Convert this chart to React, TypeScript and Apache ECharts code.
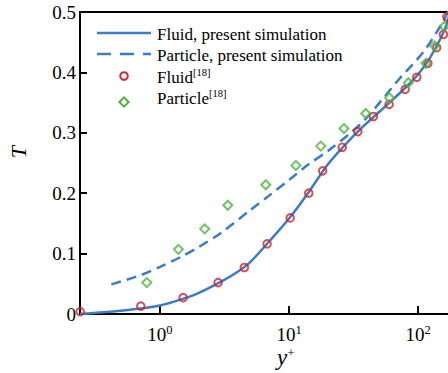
import React, { useEffect, useRef } from "react";
import * as echarts from "echarts";

// Fluid, present simulation (solid line)
const fluidSimX = [0.24, 0.43, 0.7, 1, 1.5, 2, 3, 4, 5, 7, 10, 14, 20, 30, 40, 60, 80, 100, 120, 140, 160, 175, 200];
const fluidSimT = [0.0, 0.004, 0.009, 0.014, 0.025, 0.035, 0.054, 0.07, 0.086, 0.12, 0.158, 0.2, 0.248, 0.29, 0.316, 0.35, 0.375, 0.397, 0.42, 0.445, 0.47, 0.495, 0.53];

// Particle, present simulation (dashed line)
const particleSimX = [0.42, 0.7, 1, 1.5, 2, 3, 5, 7, 10, 14, 20, 30, 40, 70, 110, 150, 175, 200];
const particleSimT = [0.049, 0.064, 0.078, 0.096, 0.111, 0.135, 0.172, 0.196, 0.222, 0.247, 0.27, 0.3, 0.325, 0.387, 0.434, 0.478, 0.505, 0.53];

// Fluid [18] (red circles)
const fluidRefX = [0.2405, 0.71, 1.51, 2.82, 4.5, 6.76, 10.2, 14.2, 18.2, 25.8, 34.1, 45, 59.6, 79.3, 97.6, 119, 139, 157, 167];
const fluidRefT = [0.004, 0.013, 0.027, 0.052, 0.077, 0.116, 0.159, 0.2, 0.237, 0.276, 0.302, 0.327, 0.347, 0.372, 0.392, 0.415, 0.441, 0.463, 0.492];

// Particle [18] (green diamonds)
const particleRefX = [0.79, 1.39, 2.22, 3.35, 6.6, 11.3, 17.6, 26.6, 39.3, 60, 84, 115, 134, 159];
const particleRefT = [0.052, 0.107, 0.141, 0.18, 0.214, 0.246, 0.278, 0.307, 0.332, 0.358, 0.383, 0.415, 0.444, 0.476];

const xTickValues = [1, 10, 100];
const legendLabels = ["Fluid, present simulation", "Particle, present simulation", "Fluid", "Particle"];
const refTag = "[18]";

const BLUE = "#3b7cc8";
const RED = "#d0232b";
const GREEN = "#4db33d";
const FONT = "Liberation Serif";

const zip = (xs: number[], ys: number[]) => xs.map((x, i) => [x, ys[i]]);

export default function App() {
  const ref = useRef<HTMLDivElement>(null);
  useEffect(() => {
    if (!ref.current) return;
    const chart = echarts.init(ref.current, null, { renderer: "svg" });
    const legX0 = 97;
    const legX1 = 151;
    const textX = 157;
    const rows = [33, 54, 76, 97];
    const legendText = (label: string, y: number, sup: boolean) => ({
      type: "text",
      x: textX,
      y: y + 1,
      style: {
        text: sup ? `{t|${label}}{s|${refTag}}` : `{t|${label}}`,
        verticalAlign: "middle",
        rich: {
          t: { fontFamily: FONT, fontSize: 17, fill: "#000" },
          s: { fontFamily: FONT, fontSize: 10.5, fill: "#000", padding: [0, 0, 9, 0] },
        },
      },
    });
    chart.setOption({
      animation: false,
      backgroundColor: "#ffffff",
      grid: {
        left: 80,
        top: 12,
        width: 377,
        height: 302,
        show: true,
        borderColor: "#000",
        borderWidth: 2,
        backgroundColor: "transparent",
      },
      xAxis: {
        type: "log",
        logBase: 10,
        min: 0.24,
        max: 200,
        axisLine: { show: false },
        axisTick: {
          show: true,
          inside: true,
          length: 8,
          lineStyle: { color: "#000", width: 2 },
          customValues: xTickValues,
        },
        axisLabel: {
          customValues: xTickValues,
          margin: 9,
          color: "#000",
          fontFamily: FONT,
          fontSize: 19,
          formatter: (v: number) => {
            const e = Math.round(Math.log10(v));
            return `{b|10}{sup|${e}}`;
          },
          rich: {
            b: { fontFamily: FONT, fontSize: 19, color: "#000" },
            sup: { fontFamily: FONT, fontSize: 12.5, color: "#000", padding: [0, 0, 10, 0] },
          },
        },
        splitLine: { show: false },
      },
      yAxis: {
        type: "value",
        min: 0,
        max: 0.5,
        interval: 0.1,
        axisLine: { show: false },
        axisTick: { show: true, inside: true, length: 7, lineStyle: { color: "#000", width: 2 } },
        axisLabel: { color: "#000", fontFamily: FONT, fontSize: 19, margin: 4 },
        splitLine: { show: false },
      },
      graphic: [
        {
          type: "text",
          x: 277,
          y: 357,
          style: {
            text: "{y|y}{p|+}",
            verticalAlign: "middle",
            rich: {
              y: { fontFamily: FONT, fontStyle: "italic", fontSize: 23, fill: "#000" },
              p: { fontFamily: FONT, fontSize: 13, fill: "#000", padding: [0, 0, 10, 0] },
            },
          },
        },
        {
          type: "text",
          x: 18,
          y: 152,
          rotation: Math.PI / 2,
          style: {
            text: "T",
            fontFamily: FONT,
            fontStyle: "italic",
            fontSize: 22,
            fill: "#000",
            align: "center",
            verticalAlign: "middle",
          },
        },
        // legend
        {
          type: "line",
          shape: { x1: legX0, y1: rows[0], x2: legX1, y2: rows[0] },
          style: { stroke: BLUE, lineWidth: 2.5 },
        },
        {
          type: "line",
          shape: { x1: legX0, y1: rows[1], x2: legX1, y2: rows[1] },
          style: { stroke: BLUE, lineWidth: 2.5, lineDash: [14, 9] },
        },
        {
          type: "circle",
          shape: { cx: (legX0 + legX1) / 2, cy: rows[2], r: 3.8 },
          style: { fill: "none", stroke: RED, lineWidth: 2 },
        },
        {
          type: "polygon",
          shape: {
            points: [
              [(legX0 + legX1) / 2, rows[3] + 5 - 4.6],
              [(legX0 + legX1) / 2 + 4.6, rows[3] + 5],
              [(legX0 + legX1) / 2, rows[3] + 5 + 4.6],
              [(legX0 + legX1) / 2 - 4.6, rows[3] + 5],
            ],
          },
          style: { fill: "none", stroke: GREEN, lineWidth: 2 },
        },
        legendText(legendLabels[0], rows[0], false),
        legendText(legendLabels[1], rows[1], false),
        legendText(legendLabels[2], rows[2], true),
        legendText(legendLabels[3], rows[3], true),
      ],
      series: [
        {
          name: legendLabels[0],
          type: "line",
          data: zip(fluidSimX, fluidSimT),
          smooth: 0.3,
          symbol: "none",
          lineStyle: { color: BLUE, width: 2.5 },
          itemStyle: { color: BLUE },
          z: 2,
        },
        {
          name: legendLabels[1],
          type: "line",
          data: zip(particleSimX, particleSimT),
          smooth: 0.3,
          symbol: "none",
          lineStyle: { color: BLUE, width: 2.5, type: [10, 6] },
          itemStyle: { color: BLUE },
          z: 2,
        },
        {
          name: legendLabels[2] + refTag,
          type: "scatter",
          data: zip(fluidRefX, fluidRefT),
          symbol: "circle",
          symbolSize: 7.6,
          itemStyle: { color: "transparent", borderColor: RED, borderWidth: 2 },
          z: 3,
        },
        {
          name: legendLabels[3] + refTag,
          type: "scatter",
          data: zip(particleRefX, particleRefT),
          symbol: "diamond",
          symbolSize: 9,
          itemStyle: { color: "transparent", borderColor: GREEN, borderWidth: 2 },
          z: 3,
        },
      ],
    });
    return () => chart.dispose();
  }, []);
  return (
    <div
      ref={ref}
      style={{ position: "fixed", left: 0, top: 0, width: 470, height: 373 }}
    />
  );
}
